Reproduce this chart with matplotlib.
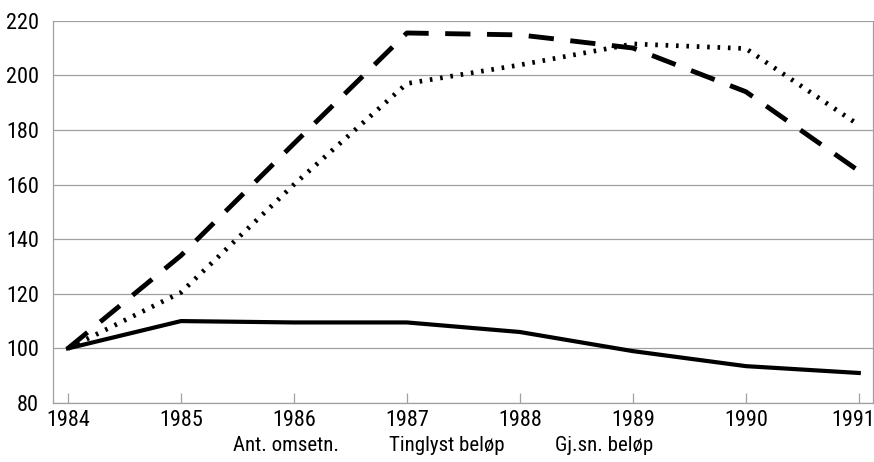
import matplotlib
matplotlib.use("Agg")
import matplotlib.pyplot as plt
from matplotlib.transforms import ScaledTranslation

plt.rcParams["font.family"] = ["Roboto Condensed", "DejaVu Sans"]

# ── data (index, 1984 = 100) ─────────────────────────────────────────────────
years = [1984, 1985, 1986, 1987, 1988, 1989, 1990, 1991]
ant_omsetn = [100, 110, 109.5, 109.5, 106, 99, 93.5, 91]
tinglyst_belop = [100, 134, 175, 215.5, 214.8, 210, 194, 165]
gjsn_belop = [100, 120.5, 160, 197, 203.8, 211.5, 209.8, 181.8]
labels = ["Ant. omsetn.", "Tinglyst beløp", "Gj.sn. beløp"]

# ── figure ───────────────────────────────────────────────────────────────────
fig = plt.figure(figsize=(8.74, 4.62), dpi=100)
ax = fig.add_axes([0.0606, 0.1277, 0.938, 0.8275])

l1, = ax.plot(years, ant_omsetn, color="black", lw=3.0,
              solid_joinstyle="round", label=labels[0])
l2, = ax.plot(years, tinglyst_belop, color="black", lw=3.5,
              dashes=(5.2, 3.4), label=labels[1])
l3, = ax.plot(years, gjsn_belop, color="black", lw=3.4,
              dashes=(0.55, 1.65), label=labels[2])

ax.set_xlim(1983.867, 1991.124)
ax.set_ylim(80, 220)
ax.set_xticks(years)
ax.set_yticks(range(80, 221, 20))
ax.yaxis.grid(True, color="#a0a0a0", lw=0.9)
ax.set_axisbelow(True)

for s in ax.spines.values():
    s.set_color("#a0a0a0")
    s.set_linewidth(0.9)
ax.spines["top"].set_visible(False)

ax.tick_params(axis="x", direction="in", length=7, width=0.9,
               color="#a0a0a0", labelsize=16, pad=5)
ax.tick_params(axis="y", length=0, labelsize=16, pad=10)

# last year label sits tight against the right edge
last = ax.get_xticklabels()[-1]
last.set_transform(last.get_transform() + ScaledTranslation(-4 / 72, 0, fig.dpi_scale_trans))

leg = ax.legend(handles=[l1, l2, l3], loc="center",
                bbox_to_anchor=(0.476, -0.11), ncol=3, frameon=False,
                handlelength=0, handletextpad=0, columnspacing=2.4,
                fontsize=15, borderpad=0)
for h in leg.legend_handles:
    h.set_visible(False)

fig.savefig("out.png", dpi=100)
